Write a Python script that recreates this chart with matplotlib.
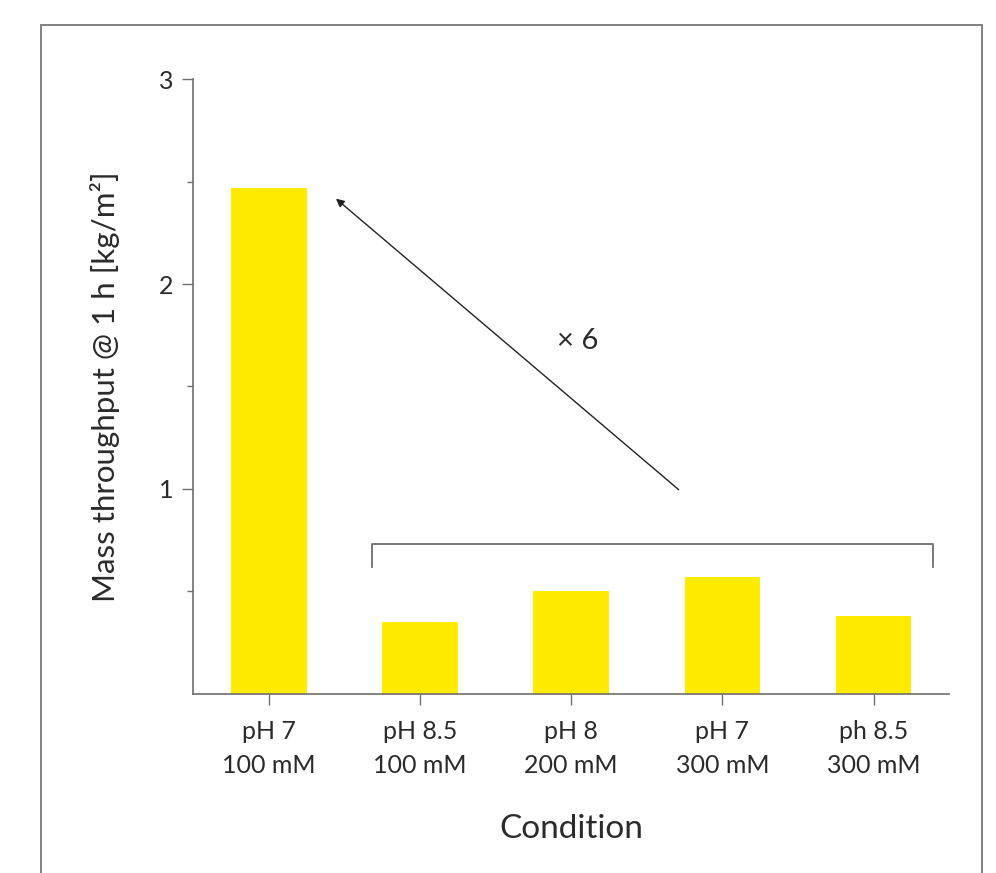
import matplotlib.pyplot as plt
from matplotlib.patches import Rectangle

# datos
conditions = ["pH 7\n100 mM", "pH 8.5\n100 mM", "pH 8\n200 mM", "pH 7\n300 mM", "ph 8.5\n300 mM"]
throughput = [2.47, 0.35, 0.50, 0.57, 0.38]
yticks = [1, 2, 3]
yminor = [0.5, 1.5, 2.5]

plt.rcParams['font.family'] = ['Lato', 'DejaVu Sans']
gray = '#6e6e6e'
text_col = '#2b2b2b'

fig = plt.figure(figsize=(9.96, 8.73), dpi=100)
ax = fig.add_axes([0.194, 0.2054, 0.759, 0.7038])

x = range(len(conditions))
ax.bar(x, throughput, width=0.5, color='#FFEB00')

ax.set_xlim(-0.5, 4.5)
ax.set_ylim(0, 3)
ax.set_xticks(list(x))
ax.set_xticklabels(conditions, fontsize=18, color=text_col, linespacing=1.6)
ax.set_yticks(yticks)
ax.set_yticklabels([str(t) for t in yticks], fontsize=18, color=text_col)
ax.set_yticks(yminor, minor=True)

ax.tick_params(axis='y', which='major', length=8, width=1, color=gray, pad=6)
ax.tick_params(axis='y', which='minor', length=4, width=1, color=gray)
ax.tick_params(axis='x', which='major', length=8, width=1, color=gray, pad=11)

for s in ['top', 'right']:
    ax.spines[s].set_visible(False)
for s in ['left', 'bottom']:
    ax.spines[s].set_color(gray)
    ax.spines[s].set_linewidth(1.2)

ax.set_xlabel('Condition', fontsize=24, color=text_col, labelpad=26)
ax.set_ylabel('Mass throughput @ 1 h [kg/m²]', fontsize=22.5, color=text_col, labelpad=28)

# corchete sobre las otras condiciones
ax.plot([0.682, 0.682, 4.395, 4.395], [0.619, 0.731, 0.731, 0.619],
        color=gray, lw=1.3, clip_on=False)

# flecha x6
ax.annotate('', xy=(0.444, 2.417), xytext=(2.711, 0.996),
            arrowprops=dict(arrowstyle='-|>', color='#222222', lw=1.0,
                            mutation_scale=12, shrinkA=0, shrinkB=0))
ax.text(2.046, 1.724, '× 6', fontsize=21, color=text_col, ha='center', va='center')

# marco gris
fig.patches.append(Rectangle((0.0412, -0.1), 0.9448, 1.0714, transform=fig.transFigure,
                             fill=False, edgecolor='#777777', lw=1.3))

fig.savefig('out.png', dpi=100)
